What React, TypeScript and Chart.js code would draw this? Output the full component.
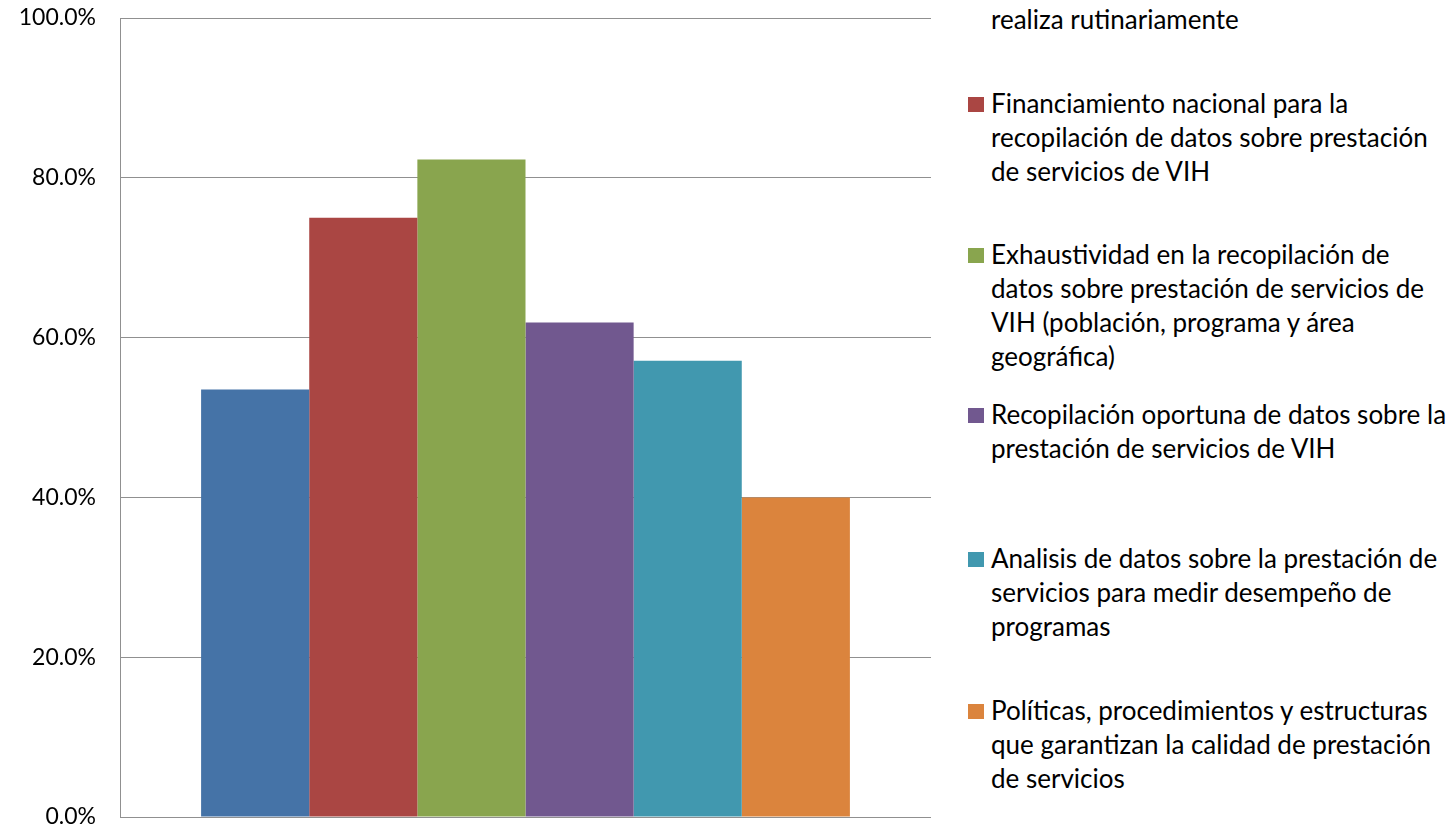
import React, { useEffect, useRef } from "react";
import { Chart, registerables } from "chart.js";

Chart.register(...registerables);

const categories: string[] = [""];
const seriesValues: number[] = [53.5, 75.0, 82.3, 61.9, 57.1, 40.0];
const seriesColors: string[] = ["#4573A7", "#AA4643", "#89A54E", "#71588F", "#4198AF", "#DB843D"];
const seriesLegendLines: string[][] = [
  ["realiza rutinariamente"],
  ["Financiamiento nacional para la", "recopilación de datos sobre prestación", "de servicios de VIH"],
  ["Exhaustividad en la recopilación de", "datos sobre prestación de servicios de", "VIH (población, programa y área", "geográfica)"],
  ["Recopilación oportuna de datos sobre la", "prestación de servicios de VIH"],
  ["Analisis de datos sobre la prestación de", "servicios para medir desempeño de", "programas"],
  ["Políticas, procedimientos y estructuras", "que garantizan la calidad de prestación", "de servicios"],
];
const tickValues: number[] = [0, 20, 40, 60, 80, 100];

// first-line baseline of each legend entry (first entry: only its last wrapped line is visible)
const legendBaselines: number[] = [29, 113, 264, 424, 568, 720];
const showMarker: boolean[] = [false, true, true, true, true, true];

const FONT = "Lato, 'Liberation Sans', sans-serif";
const LEG_FS = 26;
const LINE_H = 34;
const BASE_OFF = Math.round((LINE_H - 1.2 * LEG_FS) / 2 + 0.987 * LEG_FS);

export default function App() {
  const canvasRef = useRef<HTMLCanvasElement | null>(null);

  useEffect(() => {
    if (!canvasRef.current) return;
    const chart = new Chart(canvasRef.current, {
      type: "bar",
      data: {
        labels: categories,
        datasets: seriesValues.map((v, i) => ({
          label: seriesLegendLines[i].join(" "),
          data: [v],
          backgroundColor: seriesColors[i],
          borderWidth: 0,
          categoryPercentage: 0.8,
          barPercentage: 1.0,
        })),
      },
      options: {
        animation: false,
        responsive: false,
        maintainAspectRatio: false,
        layout: { padding: { top: 18, bottom: 12, left: 0, right: 0 } },
        plugins: { legend: { display: false }, tooltip: { enabled: false } },
        scales: {
          x: { display: false },
          y: {
            min: 0,
            max: 100,
            afterBuildTicks: (scale: any) => {
              scale.ticks = tickValues.map((v) => ({ value: v }));
            },
            afterFit: (scale: any) => {
              scale.width = 120;
              scale.paddingTop = 0;
              scale.paddingBottom = 0;
            },
            ticks: {
              padding: 24,
              color: "#000000",
              font: { family: FONT, size: 23 },
              callback: (v: any) => Number(v).toFixed(1) + "%",
            },
            grid: { color: "#909090", lineWidth: 1, drawTicks: false, tickLength: 0 },
            border: { display: true, color: "#909090", width: 1 },
          },
        },
      },
    });
    return () => chart.destroy();
  }, []);

  return (
    <div style={{ position: "fixed", left: 0, top: 0, width: 1453, height: 829, background: "#fff", overflow: "hidden" }}>
      <canvas ref={canvasRef} width={931} height={829} style={{ position: "absolute", left: 0, top: 0, width: 931, height: 829 }} />
      {seriesLegendLines.map((lines, i) => {
        const top = legendBaselines[i] - BASE_OFF;
        return (
          <div key={i} style={{ position: "absolute", left: 968, top, fontFamily: FONT, fontSize: LEG_FS, lineHeight: LINE_H + "px", color: "#000", whiteSpace: "nowrap" }}>
            {showMarker[i] && (
              <div style={{ position: "absolute", left: 0, top: BASE_OFF - 16, width: 16, height: 15, background: seriesColors[i] }} />
            )}
            <div style={{ marginLeft: 23 }}>
              {lines.map((l, j) => (
                <div key={j}>{l}</div>
              ))}
            </div>
          </div>
        );
      })}
    </div>
  );
}
